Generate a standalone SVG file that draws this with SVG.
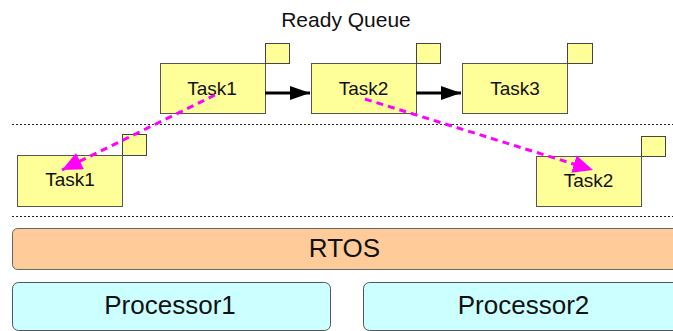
<svg xmlns="http://www.w3.org/2000/svg" width="673" height="331" viewBox="0 0 673 331">
  <defs>
    <style>
      text { font-family: "Liberation Sans", Arial, sans-serif; fill: #111; text-anchor: middle; }
      .task { fill: #FFFF99; stroke: #555; stroke-width: 1; }
      .tag { fill: #FFFF99; stroke: #444; stroke-width: 1; }
      .label { font-size: 19px; }
      .big { font-size: 26px; }
      .sep { stroke: #222; stroke-width: 1; stroke-dasharray: 2 2; fill: none; }
      .link { stroke: #000; stroke-width: 3; fill: none; }
      .move { stroke: #FF00FF; stroke-width: 3; stroke-dasharray: 7 5; fill: none; }
    </style>
    <marker id="blackHead" markerUnits="userSpaceOnUse" markerWidth="22" markerHeight="16" refX="20" refY="8" orient="auto">
      <path d="M0,1 L20,8 L0,15 Z" fill="#000"/>
    </marker>
    <marker id="pinkHead" markerUnits="userSpaceOnUse" markerWidth="22" markerHeight="18" refX="20" refY="9" orient="auto">
      <path d="M0,0 L20,9 L0,18 Z" fill="#FF00FF"/>
    </marker>
  </defs>

  <rect width="673" height="331" fill="#fff"/>

  <text id="ready-queue-title" x="346" y="27" style="font-size:21px">Ready Queue</text>

  <!-- separators -->
  <line class="sep" x1="12" y1="124.5" x2="673" y2="124.5"/>
  <line class="sep" x1="12" y1="216.5" x2="673" y2="216.5"/>

  <!-- queued tasks -->
  <g id="queue-task1">
    <rect class="task" x="160.5" y="63.5" width="105" height="50"/>
    <rect class="tag" x="265.5" y="43.5" width="24" height="20"/>
    <text class="label" x="212" y="95">Task1</text>
  </g>
  <g id="queue-task2">
    <rect class="task" x="311.5" y="63.5" width="105" height="50"/>
    <rect class="tag" x="416.5" y="43.5" width="24" height="20"/>
    <text class="label" x="363.5" y="95">Task2</text>
  </g>
  <g id="queue-task3">
    <rect class="task" x="462.5" y="63.5" width="105" height="50"/>
    <rect class="tag" x="567.5" y="43.5" width="25" height="20"/>
    <text class="label" x="515" y="95">Task3</text>
  </g>

  <!-- running tasks -->
  <g id="run-task1">
    <rect class="task" x="17.5" y="155.5" width="105" height="51"/>
    <rect class="tag" x="122.5" y="134.5" width="24" height="21"/>
    <text class="label" x="70" y="186">Task1</text>
  </g>
  <g id="run-task2">
    <rect class="task" x="536.5" y="156.5" width="105" height="50"/>
    <rect class="tag" x="641.5" y="136.5" width="24" height="20"/>
    <text class="label" x="588.5" y="187">Task2</text>
  </g>

  <!-- layers -->
  <g id="rtos">
    <rect x="12.5" y="228.5" width="670" height="41" rx="5" fill="#FFCC99" stroke="#666" stroke-width="1"/>
    <text class="big" x="344.5" y="257">RTOS</text>
  </g>
  <g id="processor1">
    <rect x="12.5" y="282.5" width="318" height="48" rx="6" fill="#CCFFFF" stroke="#555" stroke-width="1"/>
    <text class="big" x="170" y="314">Processor1</text>
  </g>
  <g id="processor2">
    <rect x="363.5" y="282.5" width="320" height="48" rx="6" fill="#CCFFFF" stroke="#555" stroke-width="1"/>
    <text class="big" x="523.5" y="314">Processor2</text>
  </g>

  <!-- connectors -->
  <g id="connectors">
    <line class="link" x1="265" y1="93" x2="310" y2="93" marker-end="url(#blackHead)"/>
    <line class="link" x1="416" y1="93" x2="461" y2="93" marker-end="url(#blackHead)"/>
    <line class="move" x1="215" y1="95" x2="62" y2="170" marker-end="url(#pinkHead)"/>
    <line class="move" x1="365" y1="99" x2="593" y2="170" marker-end="url(#pinkHead)"/>
  </g>
</svg>
